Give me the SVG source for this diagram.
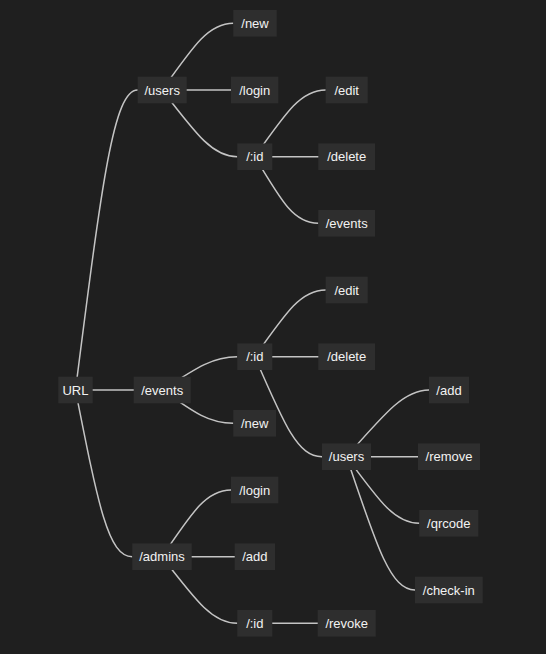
<svg xmlns="http://www.w3.org/2000/svg" width="546" height="654" viewBox="0 0 546 654">
<style>
.bg{fill:#1f1f1f}
.n rect{fill:#2e2e2e}
.n text{font-family:"Liberation Sans",Arial,sans-serif;font-size:13px;fill:#f2f2f2;text-anchor:middle}
.e path{fill:none;stroke:#c4c4c4;stroke-width:1.5}
</style>
<rect class="bg" x="0" y="0" width="546" height="654"/>
<g id="connectors" class="e">
<path d="M75.5 390 C102.2 180 113.7 90 137.7 90"/>
<path d="M75.5 390 L162 390"/>
<path d="M75.5 390 C98.5 506.7 108.3 556.7 132.3 556.7"/>
<path d="M162.2 90 C195.2 43.3 209.3 23.3 233.3 23.3"/>
<path d="M162.2 90 L254.7 90"/>
<path d="M162.2 90 C198 136.7 213.3 156.7 237.3 156.7"/>
<path d="M254.8 156.7 C287.6 110 301.7 90 325.7 90"/>
<path d="M254.8 156.7 L346.7 156.7"/>
<path d="M254.8 156.7 C282.5 203.3 294.3 223.3 318.3 223.3"/>
<path d="M162.2 390 C198 366.7 213.3 356.7 237.3 356.7"/>
<path d="M162.2 390 C195.2 413.3 209.3 423.3 233.3 423.3"/>
<path d="M254.8 356.7 C287.6 310 301.7 290 325.7 290"/>
<path d="M254.8 356.7 L346.7 356.7"/>
<path d="M254.8 356.7 C285 426.7 298 456.7 322 456.7"/>
<path d="M346.5 456.7 C387.5 410 405 390 429 390"/>
<path d="M346.5 456.7 L449 456.7"/>
<path d="M346.5 456.7 C380.7 503.3 395.3 523.3 419.3 523.3"/>
<path d="M346.5 456.7 C377.7 550 391 590 415 590"/>
<path d="M162 556.7 C193.5 510 207 490 231 490"/>
<path d="M162 556.7 L254.8 556.7"/>
<path d="M162 556.7 C197.8 603.3 213.3 623.3 237.3 623.3"/>
<path d="M254.8 623.3 L346.7 623.3"/>
</g>
<g id="n-url" class="n"><rect x="58.3" y="376.7" width="34.4" height="26.6"/><text x="75.5" y="394.5">URL</text></g>
<g id="n-users" class="n"><rect x="137.7" y="76.7" width="49" height="26.6"/><text x="162.2" y="94.5">/users</text></g>
<g id="n-users-new" class="n"><rect x="233.3" y="10" width="43.4" height="26.6"/><text x="255" y="27.8">/new</text></g>
<g id="n-users-login" class="n"><rect x="231" y="76.7" width="47.3" height="26.6"/><text x="254.7" y="94.5">/login</text></g>
<g id="n-users-id" class="n"><rect x="237.3" y="143.4" width="35" height="26.6"/><text x="254.8" y="161.2">/:id</text></g>
<g id="n-users-id-edit" class="n"><rect x="325.7" y="76.7" width="42" height="26.6"/><text x="346.7" y="94.5">/edit</text></g>
<g id="n-users-id-delete" class="n"><rect x="318.3" y="143.4" width="56.7" height="26.6"/><text x="346.7" y="161.2">/delete</text></g>
<g id="n-users-id-events" class="n"><rect x="318.3" y="210" width="56.7" height="26.6"/><text x="346.7" y="227.8">/events</text></g>
<g id="n-events" class="n"><rect x="133.7" y="376.7" width="57" height="26.6"/><text x="162.2" y="394.5">/events</text></g>
<g id="n-events-id" class="n"><rect x="237.3" y="343.4" width="35" height="26.6"/><text x="254.8" y="361.2">/:id</text></g>
<g id="n-events-id-edit" class="n"><rect x="325.7" y="276.7" width="42" height="26.6"/><text x="346.7" y="294.5">/edit</text></g>
<g id="n-events-id-delete" class="n"><rect x="318.3" y="343.4" width="56.7" height="26.6"/><text x="346.7" y="361.2">/delete</text></g>
<g id="n-events-new" class="n"><rect x="233.3" y="410" width="42.7" height="26.6"/><text x="254.7" y="427.8">/new</text></g>
<g id="n-events-id-users" class="n"><rect x="322" y="443.4" width="49" height="26.6"/><text x="346.5" y="461.2">/users</text></g>
<g id="n-eu-add" class="n"><rect x="429" y="376.7" width="40" height="26.6"/><text x="449" y="394.5">/add</text></g>
<g id="n-eu-remove" class="n"><rect x="418" y="443.4" width="62" height="26.6"/><text x="449" y="461.2">/remove</text></g>
<g id="n-eu-qrcode" class="n"><rect x="419.3" y="510" width="59" height="26.6"/><text x="448.8" y="527.8">/qrcode</text></g>
<g id="n-eu-checkin" class="n"><rect x="415" y="576.7" width="67.7" height="26.6"/><text x="448.8" y="594.5">/check-in</text></g>
<g id="n-admins" class="n"><rect x="132.3" y="543.4" width="59.4" height="26.6"/><text x="162" y="561.2">/admins</text></g>
<g id="n-admins-login" class="n"><rect x="231" y="476.7" width="47.3" height="26.6"/><text x="254.7" y="494.5">/login</text></g>
<g id="n-admins-add" class="n"><rect x="234.7" y="543.4" width="40.3" height="26.6"/><text x="254.8" y="561.2">/add</text></g>
<g id="n-admins-id" class="n"><rect x="237.3" y="610" width="35" height="26.6"/><text x="254.8" y="627.8">/:id</text></g>
<g id="n-admins-id-revoke" class="n"><rect x="317.7" y="610" width="58" height="26.6"/><text x="346.7" y="627.8">/revoke</text></g>
</svg>
